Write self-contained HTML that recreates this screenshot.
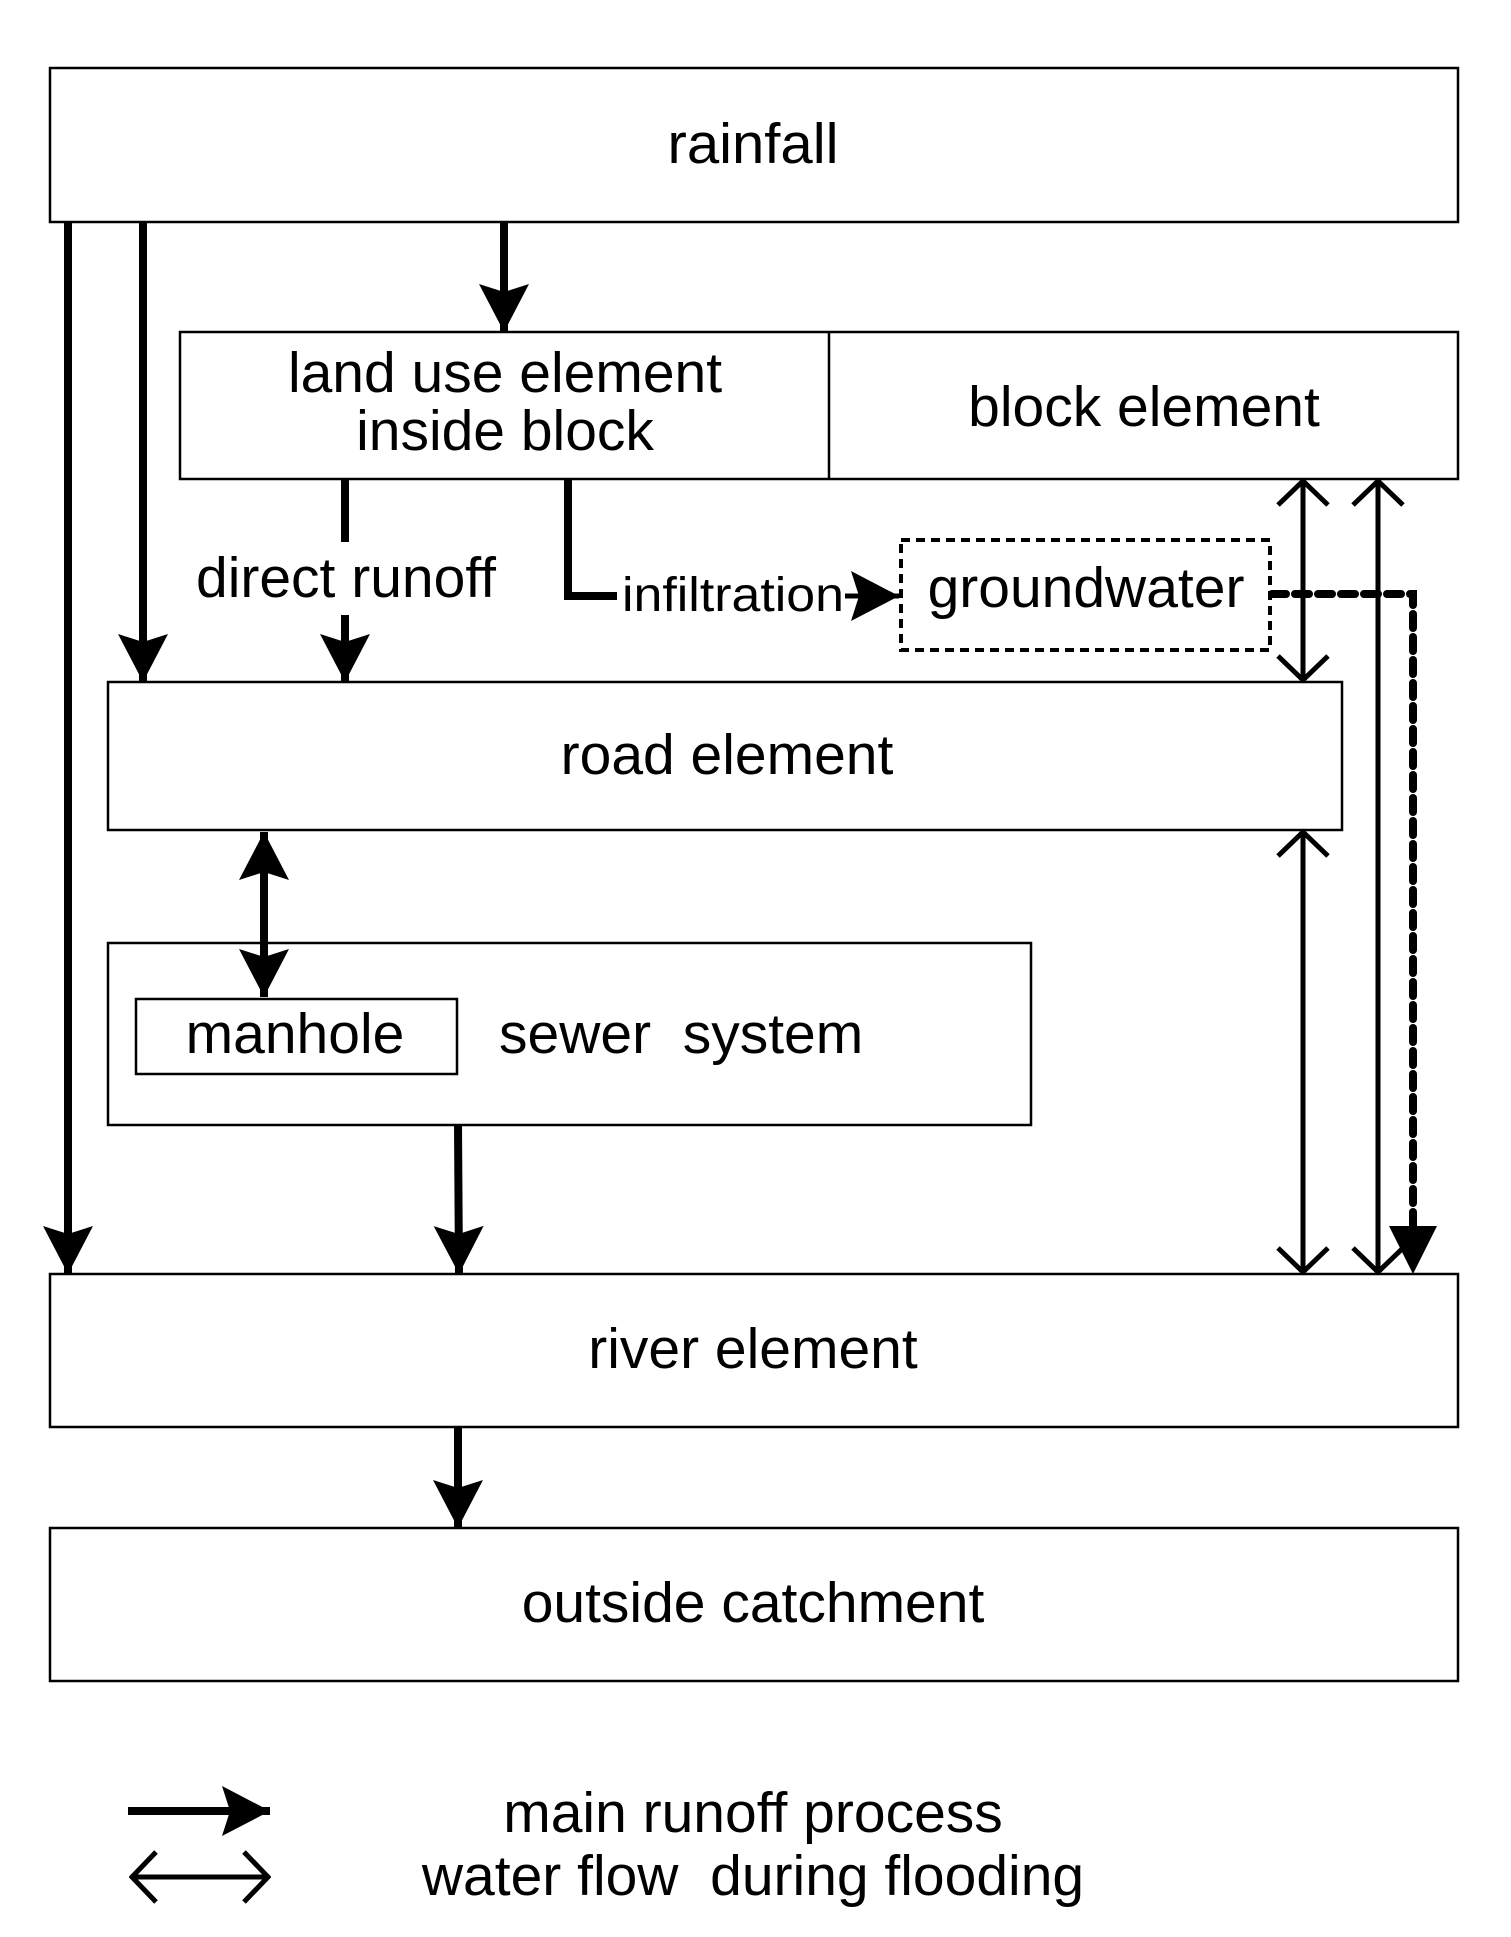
<!DOCTYPE html>
<html><head><meta charset="utf-8"><style>
html,body{margin:0;padding:0;background:#fff}
svg{display:block}
text{font-family:"Liberation Sans",Arial,sans-serif;fill:#000}
</style></head><body>
<svg width="1511" height="1937" viewBox="0 0 1511 1937" xmlns="http://www.w3.org/2000/svg">
<defs>
<marker id="fa" markerUnits="userSpaceOnUse" viewBox="0 0 50 50" markerWidth="50" markerHeight="50" refX="48" refY="25" orient="auto">
<path d="M0,0 L48,25 L0,50 L8,25 Z" fill="#000"/>
</marker>
<marker id="fs" markerUnits="userSpaceOnUse" viewBox="0 0 50 50" markerWidth="50" markerHeight="50" refX="48" refY="25" orient="auto-start-reverse">
<path d="M0,0 L48,25 L0,50 L8,25 Z" fill="#000"/>
</marker>
<marker id="oa" markerUnits="userSpaceOnUse" viewBox="0 0 30 60" markerWidth="30" markerHeight="60" refX="27" refY="30" orient="auto-start-reverse">
<path d="M3,5 L27,30 L3,55" fill="none" stroke="#000" stroke-width="5"/>
</marker>
</defs>
<g fill="none" stroke="#000" stroke-width="2.5">
<rect x="50" y="68" width="1408" height="154"/>
<rect x="180" y="332" width="1278" height="147"/>
<line x1="829" y1="332" x2="829" y2="479"/>
<rect x="108" y="682" width="1234" height="148"/>
<rect x="108" y="943" width="923" height="182"/>
<rect x="136" y="999" width="321" height="75"/>
<rect x="50" y="1274" width="1408" height="153"/>
<rect x="50" y="1528" width="1408" height="153"/>
</g>
<rect x="901" y="540" width="369" height="110" fill="none" stroke="#000" stroke-width="4" stroke-dasharray="9,6"/>
<g stroke="#000" stroke-width="8" fill="none">
<line x1="68" y1="222" x2="68" y2="1274" marker-end="url(#fa)"/>
<line x1="143" y1="222" x2="143" y2="682" marker-end="url(#fa)"/>
<line x1="504" y1="222" x2="504" y2="332" marker-end="url(#fa)"/>
<line x1="345" y1="479" x2="345" y2="542"/>
<line x1="345" y1="615" x2="345" y2="682" marker-end="url(#fa)"/>
<polyline points="568,479 568,596 617,596"/>
<line x1="845" y1="596" x2="899" y2="596" stroke-width="5" marker-end="url(#fa)"/>
<line x1="264" y1="832" x2="264" y2="997" marker-start="url(#fs)" marker-end="url(#fs)"/>
<line x1="458" y1="1125" x2="459" y2="1274" marker-end="url(#fa)"/>
<line x1="458" y1="1427" x2="458" y2="1528" marker-end="url(#fa)"/>
<line x1="128" y1="1811" x2="270" y2="1811" marker-end="url(#fa)"/>
</g>
<g stroke="#000" stroke-width="5" fill="none">
<line x1="1303" y1="481" x2="1303" y2="680" marker-start="url(#oa)" marker-end="url(#oa)"/>
<line x1="1303" y1="832" x2="1303" y2="1272" marker-start="url(#oa)" marker-end="url(#oa)"/>
<line x1="1378" y1="481" x2="1378" y2="1272" marker-start="url(#oa)" marker-end="url(#oa)"/>
<line x1="132" y1="1877" x2="268" y2="1877" marker-start="url(#oa)" marker-end="url(#oa)"/>
</g>
<polyline points="1272,594 1413,594 1413,1230" fill="none" stroke="#000" stroke-width="8" stroke-dasharray="14,9" stroke-linecap="round"/>
<path d="M1389,1226 L1413,1274 L1437,1226 Z" fill="#000"/>
<g font-size="57" text-anchor="middle">
<text x="753" y="163" textLength="171" lengthAdjust="spacingAndGlyphs">rainfall</text>
<text x="505" y="392">land use element</text>
<text x="505" y="450">inside block</text>
<text x="1144" y="426">block element</text>
<text x="346" y="597">direct runoff</text>
<text x="1086" y="607">groundwater</text>
<text x="727" y="774">road element</text>
<text x="295" y="1053">manhole</text>
<text x="753" y="1368">river element</text>
<text x="753" y="1622">outside catchment</text>
<text x="753" y="1832">main runoff process</text>
<text x="753" y="1895" xml:space="preserve">water flow  during flooding</text>
</g>
<text x="499" y="1053" font-size="57" xml:space="preserve">sewer  system</text>
<text x="622" y="611" font-size="48" textLength="222" lengthAdjust="spacingAndGlyphs">infiltration</text>
</svg>
</body></html>
